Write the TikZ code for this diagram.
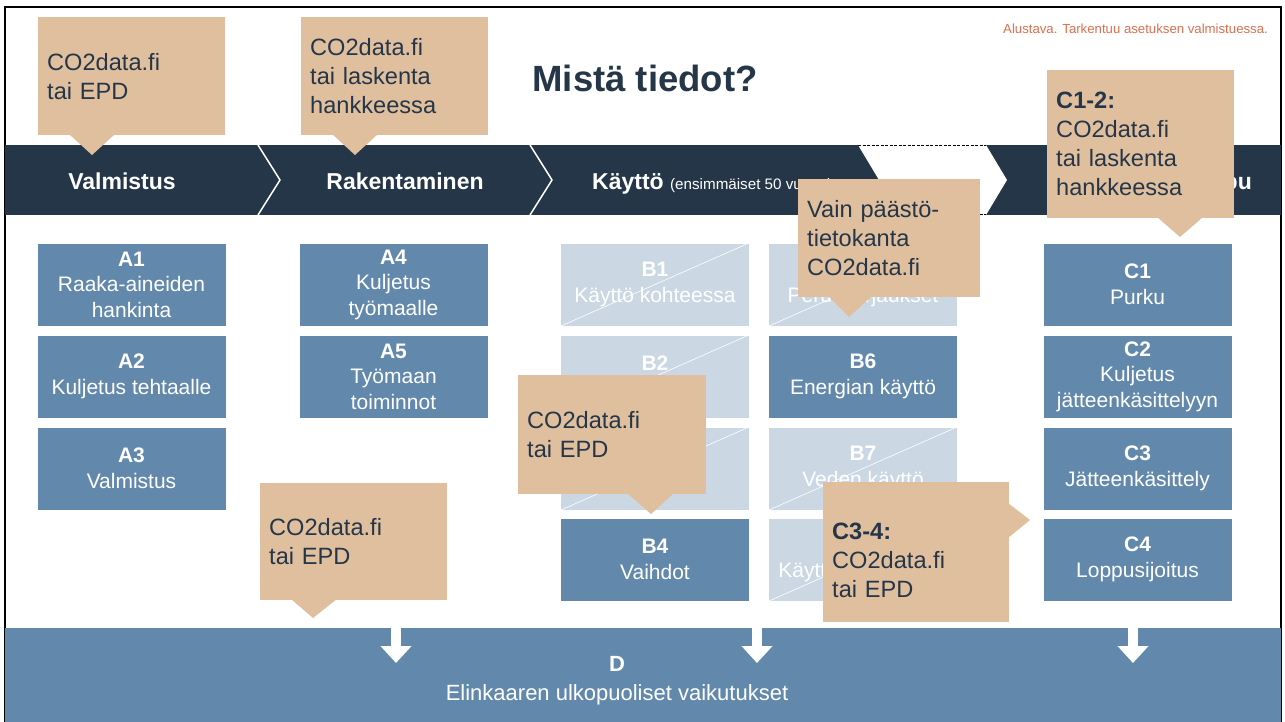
\documentclass[tikz,border=0pt]{standalone}
\usepackage{fontspec}
\setmainfont{Liberation Sans}
\usetikzlibrary{arrows.meta}
\definecolor{navy}{HTML}{253648}
\definecolor{steel}{HTML}{6289AC}
\definecolor{pale}{HTML}{CBD8E3}
\definecolor{sand}{HTML}{E0BF9E}
\definecolor{rust}{HTML}{D9704F}
\tikzset{
  blk/.style={fill=steel, draw=white, line width=0.8pt, text=white, minimum width=189, minimum height=83,
    align=center, inner sep=0pt, font=\fontsize{21}{25.5}\selectfont},
  faded/.style={blk, fill=pale},
  note/.style={fill=sand, text=navy, anchor=north west, align=left, inner xsep=9pt, inner ysep=0pt,
    font=\fontsize{23.6}{29}\selectfont},
  phase/.style={text=white, inner sep=0pt, anchor=base, font=\bfseries\fontsize{23}{28}\selectfont},
}
\begin{document}
\begin{tikzpicture}[x=1pt, y=-1pt]
\useasboundingbox (0,0) rectangle (1285,722);
\draw[line width=1.5pt] (5,7) rectangle (1281,726);
\node[text=navy, inner sep=0pt, anchor=base, font=\bfseries\fontsize{36.5}{40}\selectfont] (title) at (645,92) {Mistä tiedot?};
\node[text=rust, inner sep=0pt, anchor=base west, font=\fontsize{13.2}{16}\selectfont] (draft) at (1003,34) {Alustava. Tarkentuu asetuksen valmistuessa.};
% phase band
\fill[navy] (5,145) rectangle (1281,215);
\fill[white] (858,145) -- (986,145) -- (1007,180) -- (986,215) -- (858,215) -- (879,180) -- cycle;
\draw[dash pattern=on 3pt off 1.5pt] (858,145.5) -- (986,145.5) (858,214.5) -- (986,214.5);
\draw[white, line width=1.5pt] (258,145) -- (280,180) -- (258,215) (530,145) -- (552,180) -- (530,215);
\node[phase] (valm) at (122,190) {Valmistus};
\node[phase] (rak) at (405,190) {Rakentaminen};
\node[phase, anchor=base west] (kaytto) at (592,190) {Käyttö {\mdseries\fontsize{15.2}{18}\selectfont (ensimmäiset 50 vuotta)}};
\node[phase, anchor=base east] (loppu) at (1252,190) {Elinkaaren loppu};
% modules
\node[blk] (a1) at (131.5,284.5) {\textbf{A1}\\Raaka-aineiden\\hankinta};
\node[blk] (a2) at (131.5,376.5) {\textbf{A2}\\Kuljetus tehtaalle};
\node[blk] (a3) at (131.5,468.5) {\textbf{A3}\\Valmistus};
\node[blk] (a4) at (393.5,284.5) {\textbf{A4}\\Kuljetus\\työmaalle};
\node[blk] (a5) at (393.5,376.5) {\textbf{A5}\\Työmaan\\toiminnot};
\node[faded] (b1) at (655,284.5) {\textbf{B1}\\Käyttö kohteessa};
\node[faded] (b2) at (655,376.5) {\textbf{B2}\\Huolto};
\node[faded] (b3) at (655,468.5) {\textbf{B3}\\Korjaukset};
\node[blk] (b4) at (655,559.5) {\textbf{B4}\\Vaihdot};
\node[faded] (b5) at (863,284.5) {\textbf{B5}\\Peruskorjaukset};
\node[blk] (b6) at (863,376.5) {\textbf{B6}\\Energian käyttö};
\node[faded] (b7) at (863,468.5) {\textbf{B7}\\Veden käyttö};
\node[faded] (b8) at (863,559.5) {\textbf{B8}\\Käyttäjien liikenne};
\node[blk] (c1) at (1137.5,284.5) {\textbf{C1}\\Purku};
\node[blk] (c2) at (1137.5,376.5) {\textbf{C2}\\Kuljetus\\jätteenkäsittelyyn};
\node[blk] (c3) at (1137.5,468.5) {\textbf{C3}\\Jätteenkäsittely};
\node[blk] (c4) at (1137.5,559.5) {\textbf{C4}\\Loppusijoitus};
\foreach \n in {b1,b2,b3,b5,b7,b8} \draw[white, line width=0.6pt] (\n.south west) -- (\n.north east);
% D
\fill[steel] (5,628) rectangle (1281,722);
\foreach \x in {396,757,1133} \draw[white, line width=10pt, -{Triangle[width=30pt, length=17pt]}] (\x,627) -- (\x,663);
\node[text=white, inner sep=0pt, anchor=base, font=\bfseries\fontsize{22}{26}\selectfont] (dlab) at (617,671) {D};
\node[text=white, inner sep=0pt, anchor=base, font=\fontsize{22}{26}\selectfont] (dtxt) at (617,700) {Elinkaaren ulkopuoliset vaikutukset};
% callouts
\node[note, minimum width=187, minimum height=118, text width=169] (n1) at (38,17) {CO2data.fi\\tai EPD};
\fill[sand] (69,134) -- (92,155) -- (115,134) -- cycle;
\node[note, minimum width=187, minimum height=118, text width=169] (n2) at (301,17) {CO2data.fi\\tai laskenta\\hankkeessa};
\fill[sand] (332,134) -- (355,155) -- (378,134) -- cycle;
\node[note, minimum width=187, minimum height=148, text width=169] (n3) at (1047,70) {\textbf{C1-2:}\\CO2data.fi\\tai laskenta\\hankkeessa};
\fill[sand] (1157,217) -- (1180,237) -- (1203,217) -- cycle;
\node[note, minimum width=182, minimum height=118, text width=164] (n4) at (798,179) {Vain päästö-\\tietokanta\\CO2data.fi};
\fill[sand] (828,296) -- (849,317) -- (872,296) -- cycle;
\node[note, minimum width=188, minimum height=119, text width=170] (n5) at (518,375) {CO2data.fi\\tai EPD};
\fill[sand] (627,493) -- (651,514) -- (674,493) -- cycle;
\node[note, minimum width=187, minimum height=117, text width=169] (n6) at (260,483) {CO2data.fi\\tai EPD};
\fill[sand] (291,599) -- (313,618) -- (337,599) -- cycle;
\fill[sand] (823,482) rectangle (1009,500);
\node[note, minimum width=186, minimum height=124, text width=168] (n7) at (823,498) {\textbf{C3-4:}\\CO2data.fi\\tai EPD};
\fill[sand] (1008,503) -- (1030,520) -- (1008,538) -- cycle;
\end{tikzpicture}
\end{document}
